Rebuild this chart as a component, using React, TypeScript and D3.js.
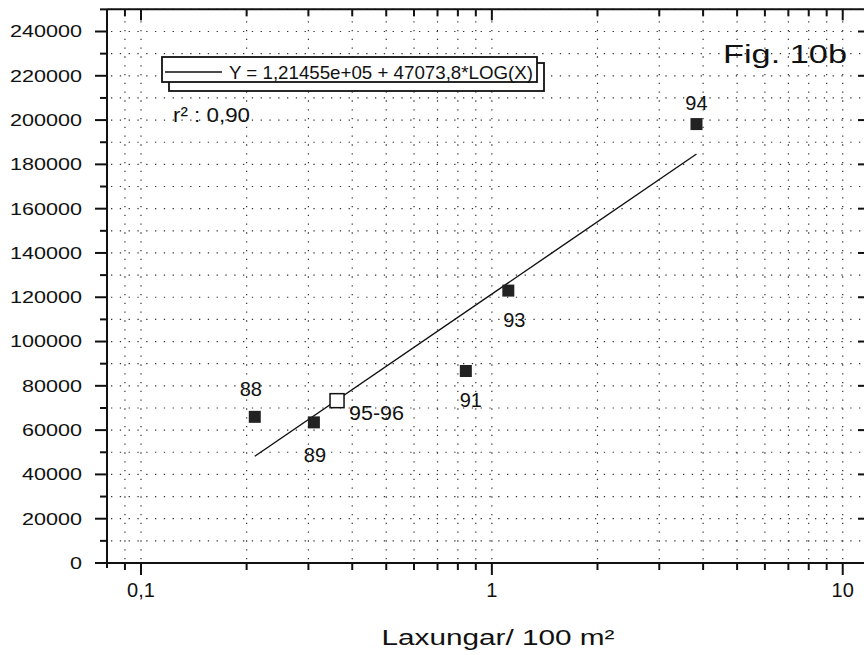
import React from 'react';
import * as d3 from 'd3';

// ---- data ----
const yearLabels = ['88', '89', '91', '93', '94'];
const xValues = [0.211, 0.311, 0.843, 1.114, 3.83];
const yValues = [66000, 63500, 86700, 123000, 198200];
const openLabel = '95-96';
const openX = [0.362];
const openY = [73300];
const fitIntercept = 121455;
const fitSlope = 47073.8;
const yTickValues = [0, 20000, 40000, 60000, 80000, 100000, 120000, 140000, 160000, 180000, 200000, 220000, 240000];
const xTickValues = [0.1, 1, 10];
const xTickLabels = ['0,1', '1', '10'];
const equationText = 'Y = 1,21455e+05 + 47073,8*LOG(X)';
const r2Text = 'r² : 0,90';
const figText = 'Fig. 10b';
const xTitle = 'Laxungar/ 100 m²';

// label offsets (style, px relative to mark centre): [dx, baselineDy]
const labelOffsets: [number, number][] = [[-4, -21], [1, 40], [5, 36], [6, 36], [0, -14]];
const openLabelOffset: [number, number] = [12, 19];

const W = 864, H = 655;
const FONT = 'Liberation Sans, Arial, sans-serif';

export default function App() {
  const x = d3.scaleLog().domain([0.08, 11.65]).range([107, 866]);
  const y = d3.scaleLinear().domain([0, 240000]).range([563, 31.5]);
  const top = y(250000);
  const left = 107, right = 866, bottom = 563;

  const minorY = d3.range(0, 250001, 10000);
  const minorX: number[] = [];
  [0.01, 0.1, 1, 10].forEach(d => { for (let k = 1; k < 10; k++) { const v = d * k; if (v >= 0.08 && v <= 11.65) minorX.push(v); } });

  const fitFn = (v: number) => fitIntercept + fitSlope * Math.log(v);
  const xmin = d3.min(xValues)!, xmax = d3.max(xValues)!;
  const line = d3.line<number>().x(v => x(v)).y(v => y(fitFn(v)));
  const fitPts = [xmin, xmax];

  const isMajorX = (v: number) => xTickValues.some(t => Math.abs(t - v) / t < 1e-6);

  return (
    <svg width={W} height={H} style={{ position: 'absolute', left: 0, top: 0, background: '#fff' }} fontFamily={FONT}>
      <rect x={0} y={0} width={W} height={H} fill="#fff" />
      {/* grid */}
      <g stroke="#333" strokeWidth={1.2} strokeDasharray="1.3,7.5">
        {minorY.filter(v => v > 0).map(v => (
          <line key={'gy' + v} x1={left + 4} x2={right} y1={y(v)} y2={y(v)} />
        ))}
        {minorX.filter(v => v > 0.0801).map(v => (
          <line key={'gx' + v} x1={x(v)} x2={x(v)} y1={top + 3} y2={bottom} />
        ))}
      </g>
      {/* axes */}
      <g stroke="#111" strokeWidth={2} fill="none">
        <line x1={left} x2={left} y1={top} y2={bottom + 5} />
        <line x1={left - 12} x2={right} y1={bottom} y2={bottom} />
        <line x1={left} x2={right} y1={top} y2={top} />
        {minorY.map(v => (
          <line key={'ty' + v} x1={left - (v % 20000 === 0 ? 12 : 7)} x2={left} y1={y(v)} y2={y(v)} />
        ))}
        {minorY.filter(v => v % 20000 === 0 && v > 0).map(v => (
          <line key={'try' + v} x1={right - 8} x2={right} y1={y(v)} y2={y(v)} />
        ))}
        {minorX.filter(v => v > 0.0801).map(v => (
          <g key={'tx' + v}>
            <line x1={x(v)} x2={x(v)} y1={bottom} y2={bottom + (isMajorX(v) ? 12 : 7)} />
            <line x1={x(v)} x2={x(v)} y1={top} y2={top + (isMajorX(v) ? 11 : 7)} />
          </g>
        ))}
      </g>
      {/* y tick labels */}
      <g fontSize={16.5} fill="#111" textAnchor="end">
        {yTickValues.map(v => (
          <text key={'yl' + v} x={82} y={y(v)} dy="0.36em" textLength={String(v).length * 12} lengthAdjust="spacingAndGlyphs">{String(v)}</text>
        ))}
      </g>
      {/* x tick labels */}
      <g fontSize={20} fill="#111" textAnchor="middle">
        {xTickValues.map((v, i) => (
          <text key={'xl' + v} x={x(v)} y={597}>{xTickLabels[i]}</text>
        ))}
      </g>
      <text x={498} y={645} fontSize={22} textAnchor="middle" fill="#111" textLength={233} lengthAdjust="spacingAndGlyphs">{xTitle}</text>
      {/* regression line */}
      <path d={line(fitPts) || ''} stroke="#111" strokeWidth={1.4} fill="none" />
      {/* points */}
      {xValues.map((v, i) => (
        <g key={'p' + i}>
          <rect x={x(v) - 6} y={y(yValues[i]) - 6} width={12} height={12} fill="#222" />
          <text x={x(v) + labelOffsets[i][0]} y={y(yValues[i]) + labelOffsets[i][1]} fontSize={20} textAnchor="middle" fill="#111">{yearLabels[i]}</text>
        </g>
      ))}
      {openX.map((v, i) => (
        <g key={'o' + i}>
          <rect x={x(v) - 7} y={y(openY[i]) - 7} width={14} height={14} fill="#fff" stroke="#111" strokeWidth={1.5} />
          <text x={x(v) + openLabelOffset[0]} y={y(openY[i]) + openLabelOffset[1]} fontSize={20} fill="#111" textLength={55} lengthAdjust="spacingAndGlyphs">{openLabel}</text>
        </g>
      ))}
      {/* legend box */}
      <rect x={169} y={63} width={375} height={28} fill="#fff" stroke="#111" strokeWidth={1.8} />
      <rect x={162} y={57} width={375} height={25} fill="#fff" stroke="#111" strokeWidth={1.8} />
      <line x1={165} x2={222} y1={72} y2={72} stroke="#111" strokeWidth={1.3} />
      <text x={229} y={79} fontSize={19} fill="#111" textLength={304} lengthAdjust="spacingAndGlyphs">{equationText}</text>
      <text x={173} y={122} fontSize={20} fill="#111" textLength={77} lengthAdjust="spacingAndGlyphs">{r2Text}</text>
      <text x={723} y={63} fontSize={26} fill="#111" textLength={124} lengthAdjust="spacingAndGlyphs">{figText}</text>
    </svg>
  );
}
